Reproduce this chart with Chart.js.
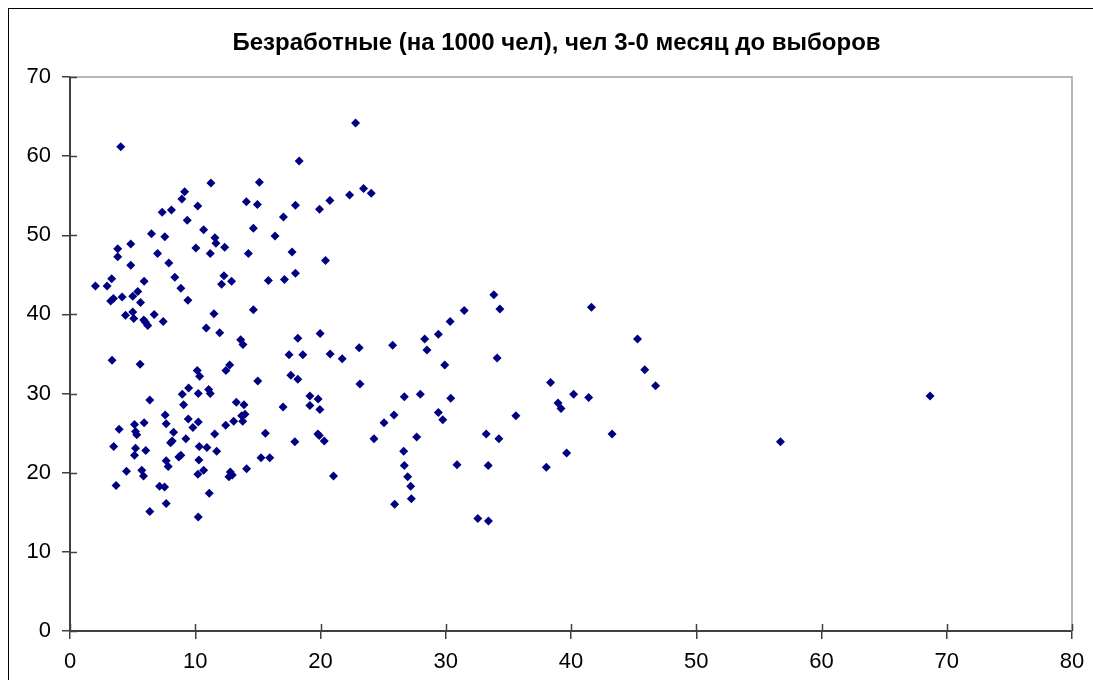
<!DOCTYPE html>
<html>
<head>
<meta charset="utf-8">
<script src="https://cdn.jsdelivr.net/npm/chart.js@4/dist/chart.umd.min.js"></script>
<style>
  html, body { margin: 0; padding: 0; background: #fff; overflow: hidden; }
  #wrap { position: relative; width: 1093px; height: 680px; }
  #frame { position: absolute; left: 8px; top: 8px; width: 1200px; height: 800px; border: 1px solid #000; box-sizing: border-box; }
  canvas { position: absolute; left: 0; top: 0; }
</style>
</head>
<body>
<div id="wrap">
  <div id="frame"></div>
  <canvas id="c" width="1093" height="680"></canvas>
</div>
<script>
const titleText = 'Безработные (на 1000 чел), чел 3-0 месяц до выборов';
const xTickValues = [0, 10, 20, 30, 40, 50, 60, 70, 80];
const yTickValues = [0, 10, 20, 30, 40, 50, 60, 70];

const xValues = [
  4.05, 11.25, 9.15, 8.93, 14.08, 7.36, 8.1, 10.2, 9.36, 6.5,
  7.57, 10.67, 11.57, 11.65, 10.05, 12.35, 11.2, 14.24, 3.81, 4.85,
  3.81, 6.99, 4.85, 7.89, 8.37, 12.29, 12.1, 12.9, 2.03, 2.96,
  3.33, 5.92, 8.85, 5.41, 3.25, 3.47, 4.16, 5.01, 5.63, 9.41,
  4.43, 5.01, 5.09, 6.72, 5.89, 6.03, 6.21, 7.44, 11.49, 10.88,
  11.95, 13.63, 13.81, 3.36, 5.6, 12.75, 12.45, 10.16, 10.35, 9.47,
  8.96, 10.24, 11.07, 11.2, 6.37, 9.07, 13.28, 13.89, 7.6, 7.68,
  9.44, 10.24, 9.81, 5.92, 5.15, 5.23, 5.33, 3.92, 8.27, 8.16,
  8.03, 9.25, 11.55, 12.43, 13.07, 13.71, 13.97, 13.79, 3.49, 5.23,
  5.15, 6.05, 10.32, 10.93, 11.71, 8.69, 8.85, 10.29, 7.68, 7.84,
  4.51, 5.73, 5.87, 10.67, 10.21, 12.8, 12.96, 12.69, 14.1, 3.68,
  7.15, 7.55, 11.12, 7.68, 6.37, 10.24,
  22.8, 18.3, 15.12, 14.96, 18.0, 17.04, 19.92, 20.75, 22.32, 23.44,
  24.05, 14.64, 16.37, 17.73, 20.4, 18.0, 17.12, 15.84,
  14.64, 18.19, 19.97, 17.49, 18.59, 20.77, 21.73, 23.09, 25.76, 23.15,
  17.63, 18.19, 14.99, 19.15, 19.81, 19.15, 19.95, 17.01, 15.6, 17.95,
  19.79, 19.9, 20.3, 15.25, 15.95, 21.04, 26.69, 25.87, 25.07, 24.27,
  27.68, 26.64, 26.69, 26.96, 27.2, 27.25, 25.92,
  33.84, 34.32, 31.47, 30.35, 29.41, 28.32, 28.5, 29.92, 34.1, 27.97,
  30.4, 29.41, 29.76, 35.6, 38.37, 38.96, 39.2, 33.23, 34.24, 30.9,
  33.39, 38.03, 39.65, 32.56, 33.41,
  41.63, 45.31, 45.89, 46.75, 40.21, 41.41, 43.28, 56.72, 68.67
];
const yValues = [
  61.2, 56.6, 55.5, 54.6, 54.25, 52.9, 53.2, 53.7, 51.9, 50.2,
  49.8, 50.7, 49.7, 49.0, 48.4, 48.5, 47.7, 47.7, 48.3, 48.9,
  47.3, 47.7, 46.2, 46.5, 44.7, 44.9, 43.8, 44.2, 43.6, 43.6,
  44.5, 44.2, 43.3, 42.9, 41.7, 42.0, 42.2, 42.3, 41.5, 41.8,
  39.9, 40.3, 39.5, 40.0, 39.3, 39.0, 38.6, 39.1, 40.1, 38.3,
  37.7, 36.8, 36.2, 34.2, 33.7, 33.6, 32.9, 32.9, 32.2, 30.7,
  29.9, 30.0, 30.5, 30.0, 29.2, 28.6, 28.9, 28.6, 27.3, 26.2,
  26.8, 26.4, 25.7, 26.3, 26.1, 25.2, 24.8, 25.5, 25.1, 24.0,
  23.8, 24.3, 24.9, 26.0, 26.5, 27.2, 27.4, 26.5, 23.3, 23.1,
  22.2, 22.8, 23.3, 23.2, 22.7, 22.0, 22.2, 21.6, 21.5, 20.8,
  20.2, 20.3, 19.6, 20.3, 19.8, 20.1, 19.7, 19.5, 20.5, 18.4,
  18.3, 18.2, 17.4, 16.1, 15.1, 14.4,
  64.2, 59.4, 56.7, 53.9, 53.8, 52.3, 53.3, 54.4, 55.1, 55.9,
  55.3, 50.9, 49.9, 47.9, 46.8, 45.2, 44.4, 44.3,
  40.6, 37.0, 37.6, 34.9, 34.9, 35.0, 34.4, 35.8, 36.1, 31.2,
  32.3, 31.8, 31.6, 29.7, 29.3, 28.5, 28.0, 28.3, 25.0, 23.9,
  24.9, 24.7, 24.0, 21.9, 21.9, 19.6, 29.6, 27.3, 26.3, 24.3,
  24.5, 22.7, 20.9, 19.5, 18.3, 16.7, 16.0,
  42.5, 40.7, 40.5, 39.1, 37.5, 36.9, 35.5, 33.6, 34.5, 29.9,
  29.4, 27.6, 26.7, 27.2, 31.4, 28.8, 28.1, 24.9, 24.3, 21.0,
  20.9, 20.7, 22.5, 14.2, 13.9,
  40.9, 36.9, 33.0, 31.0, 29.9, 29.5, 24.9, 23.9, 29.7
];

const points = xValues.map((x, i) => ({ x: x, y: yValues[i] }));
const FONT = '"Liberation Sans", Arial, sans-serif';
const AXIS_COLOR = '#404040';

const framePlugin = {
  id: 'framePlugin',
  afterDatasetsDraw(chart) {
    const ctx = chart.ctx;
    const a = chart.chartArea;
    const xs = chart.scales.x, ys = chart.scales.y;
    ctx.save();
    ctx.strokeStyle = '#a0a0a0';
    ctx.lineWidth = 1.5;
    ctx.beginPath();
    ctx.moveTo(a.left, a.top);
    ctx.lineTo(a.right, a.top);
    ctx.lineTo(a.right, a.bottom);
    ctx.stroke();
    ctx.strokeStyle = AXIS_COLOR;
    ctx.lineWidth = 1.5;
    ctx.beginPath();
    xTickValues.forEach(v => {
      const px = Math.round(xs.getPixelForValue(v)) + 0.5;
      ctx.moveTo(px, a.bottom);
      ctx.lineTo(px, a.bottom - 7);
    });
    yTickValues.forEach(v => {
      const py = Math.round(ys.getPixelForValue(v)) + 0.5;
      ctx.moveTo(a.left, py);
      ctx.lineTo(a.left + 7, py);
    });
    ctx.stroke();
    ctx.restore();
  }
};

new Chart(document.getElementById('c'), {
  type: 'scatter',
  data: {
    datasets: [{
      data: points,
      pointStyle: 'rectRot',
      pointRadius: 4.5,
      pointHoverRadius: 4.5,
      backgroundColor: '#000080',
      borderColor: '#000080',
      borderWidth: 0
    }]
  },
  options: {
    responsive: false,
    animation: false,
    events: [],
    layout: { padding: { left: 20, right: 0, top: 0, bottom: 0 } },
    plugins: {
      legend: { display: false },
      tooltip: { enabled: false },
      title: {
        display: true,
        text: titleText,
        color: '#000',
        font: { family: FONT, size: 24, weight: 'bold', lineHeight: 1 },
        padding: { top: 31, bottom: 22 }
      }
    },
    scales: {
      x: {
        type: 'linear',
        min: 0, max: 80,
        afterBuildTicks: s => { s.ticks = xTickValues.map(v => ({ value: v })); },
        afterFit: s => { s.height = 49; s.paddingRight = 21; },
        ticks: { color: '#000', font: { family: FONT, size: 22 }, padding: 10, maxRotation: 0 },
        grid: { display: true, drawOnChartArea: false, drawTicks: true, tickLength: 8, color: AXIS_COLOR, lineWidth: 1.5 },
        border: { display: true, color: AXIS_COLOR, width: 2 }
      },
      y: {
        type: 'linear',
        min: 0, max: 70,
        afterBuildTicks: s => { s.ticks = yTickValues.map(v => ({ value: v })); },
        afterFit: s => { s.width = 50; },
        ticks: { color: '#000', font: { family: FONT, size: 22 }, padding: 11 },
        grid: { display: true, drawOnChartArea: false, drawTicks: true, tickLength: 8, color: AXIS_COLOR, lineWidth: 1.5 },
        border: { display: true, color: AXIS_COLOR, width: 2 }
      }
    }
  },
  plugins: [framePlugin]
});
</script>
</body>
</html>
